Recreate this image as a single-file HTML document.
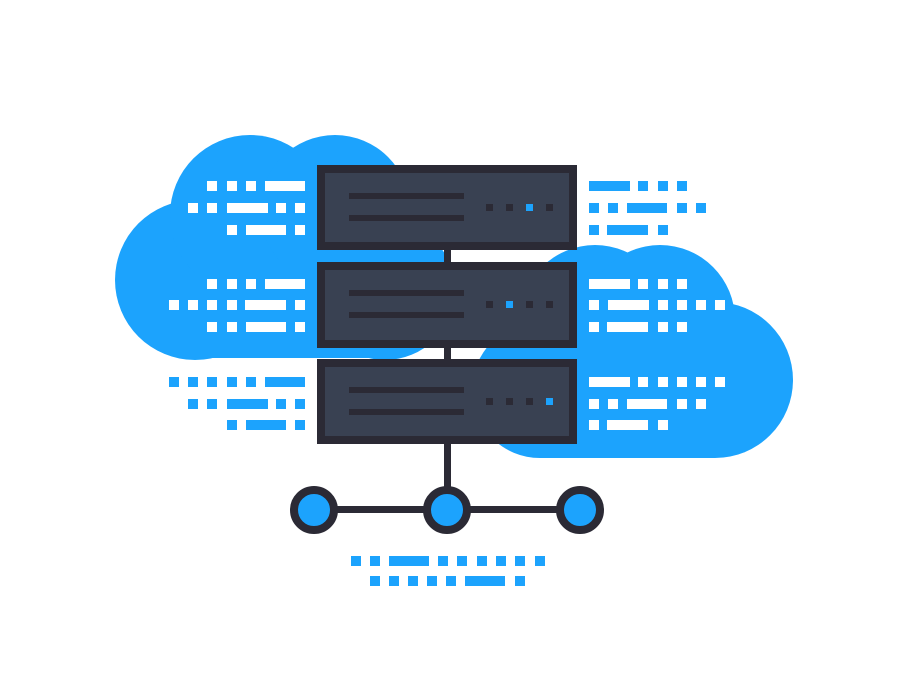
<!DOCTYPE html>
<html><head><style>html,body{margin:0;padding:0;background:#fff;}svg{display:block}</style></head>
<body>
<svg width="900" height="700" viewBox="0 0 900 700" xmlns="http://www.w3.org/2000/svg">
<g fill="#1ca3fd">
<circle cx="195" cy="280" r="80"/><circle cx="250" cy="215" r="80"/><circle cx="335" cy="210" r="75"/><circle cx="385" cy="290" r="70"/>
<rect x="195" y="260" width="195" height="98"/>
<circle cx="595" cy="320" r="75"/><circle cx="660" cy="320" r="75"/><circle cx="715" cy="380" r="78"/><circle cx="540" cy="390" r="68"/>
<rect x="540" y="360" width="175" height="98"/><rect x="560" y="320" width="120" height="80"/>
</g>
<g fill="#fff">
<rect x="207" y="181" width="10" height="10"/><rect x="227" y="181" width="10" height="10"/><rect x="246" y="181" width="10" height="10"/><rect x="265" y="181" width="40" height="10"/>
<rect x="188" y="203" width="10" height="10"/><rect x="207" y="203" width="10" height="10"/><rect x="227" y="203" width="41" height="10"/><rect x="276" y="203" width="10" height="10"/><rect x="295" y="203" width="10" height="10"/>
<rect x="227" y="225" width="10" height="10"/><rect x="246" y="225" width="40" height="10"/><rect x="295" y="225" width="10" height="10"/>
<rect x="207" y="279" width="10" height="10"/><rect x="227" y="279" width="10" height="10"/><rect x="246" y="279" width="10" height="10"/><rect x="265" y="279" width="40" height="10"/>
<rect x="169" y="300" width="10" height="10"/><rect x="188" y="300" width="10" height="10"/><rect x="207" y="300" width="10" height="10"/><rect x="227" y="300" width="10" height="10"/><rect x="245" y="300" width="41" height="10"/><rect x="295" y="300" width="10" height="10"/>
<rect x="207" y="322" width="10" height="10"/><rect x="227" y="322" width="10" height="10"/><rect x="246" y="322" width="40" height="10"/><rect x="295" y="322" width="10" height="10"/>
<rect x="589" y="279" width="41" height="10"/><rect x="638" y="279" width="10" height="10"/><rect x="658" y="279" width="10" height="10"/><rect x="677" y="279" width="10" height="10"/>
<rect x="589" y="300" width="10" height="10"/><rect x="608" y="300" width="41" height="10"/><rect x="658" y="300" width="10" height="10"/><rect x="677" y="300" width="10" height="10"/><rect x="696" y="300" width="10" height="10"/><rect x="715" y="300" width="10" height="10"/>
<rect x="589" y="322" width="10" height="10"/><rect x="607" y="322" width="41" height="10"/><rect x="658" y="322" width="10" height="10"/><rect x="677" y="322" width="10" height="10"/>
<rect x="589" y="377" width="41" height="10"/><rect x="638" y="377" width="10" height="10"/><rect x="658" y="377" width="10" height="10"/><rect x="677" y="377" width="10" height="10"/><rect x="696" y="377" width="10" height="10"/><rect x="715" y="377" width="10" height="10"/>
<rect x="589" y="399" width="10" height="10"/><rect x="608" y="399" width="10" height="10"/><rect x="627" y="399" width="40" height="10"/><rect x="677" y="399" width="10" height="10"/><rect x="696" y="399" width="10" height="10"/>
<rect x="589" y="420" width="10" height="10"/><rect x="607" y="420" width="41" height="10"/><rect x="658" y="420" width="10" height="10"/>
</g>
<g fill="#1ca3fd">
<rect x="169" y="377" width="10" height="10"/><rect x="188" y="377" width="10" height="10"/><rect x="207" y="377" width="10" height="10"/><rect x="227" y="377" width="10" height="10"/><rect x="246" y="377" width="10" height="10"/><rect x="265" y="377" width="40" height="10"/>
<rect x="188" y="399" width="10" height="10"/><rect x="207" y="399" width="10" height="10"/><rect x="227" y="399" width="41" height="10"/><rect x="276" y="399" width="10" height="10"/><rect x="295" y="399" width="10" height="10"/>
<rect x="227" y="420" width="10" height="10"/><rect x="246" y="420" width="40" height="10"/><rect x="295" y="420" width="10" height="10"/>
<rect x="589" y="181" width="41" height="10"/><rect x="638" y="181" width="10" height="10"/><rect x="658" y="181" width="10" height="10"/><rect x="677" y="181" width="10" height="10"/>
<rect x="589" y="203" width="10" height="10"/><rect x="608" y="203" width="10" height="10"/><rect x="627" y="203" width="40" height="10"/><rect x="677" y="203" width="10" height="10"/><rect x="696" y="203" width="10" height="10"/>
<rect x="589" y="225" width="10" height="10"/><rect x="607" y="225" width="41" height="10"/><rect x="658" y="225" width="10" height="10"/>
<rect x="351" y="556" width="10" height="10"/><rect x="370" y="556" width="10" height="10"/><rect x="389" y="556" width="40" height="10"/><rect x="438" y="556" width="10" height="10"/><rect x="457" y="556" width="10" height="10"/><rect x="477" y="556" width="10" height="10"/><rect x="496" y="556" width="10" height="10"/><rect x="515" y="556" width="10" height="10"/><rect x="535" y="556" width="10" height="10"/>
<rect x="370" y="576" width="10" height="10"/><rect x="389" y="576" width="10" height="10"/><rect x="408" y="576" width="10" height="10"/><rect x="427" y="576" width="10" height="10"/><rect x="446" y="576" width="10" height="10"/><rect x="465" y="576" width="40" height="10"/><rect x="515" y="576" width="10" height="10"/>
</g>
<rect x="444" y="245" width="7" height="250" fill="#2b2a35"/>
<rect x="314" y="506" width="266" height="7" fill="#2b2a35"/>
<g fill="#1ca3fd" stroke="#2b2a35" stroke-width="8">
<circle cx="314" cy="510" r="20"/><circle cx="447" cy="510" r="20"/><circle cx="580" cy="510" r="20"/>
</g>
<g stroke="#2b2a35" stroke-width="8" fill="#394152">
<rect x="321" y="169" width="252" height="77"/>
<rect x="321" y="266" width="252" height="78"/>
<rect x="321" y="363" width="252" height="77"/>
</g>
<g fill="#2b2a35">
<rect x="349" y="193" width="115" height="6"/><rect x="349" y="215" width="115" height="6"/>
<rect x="349" y="290" width="115" height="6"/><rect x="349" y="312" width="115" height="6"/>
<rect x="349" y="387" width="115" height="6"/><rect x="349" y="409" width="115" height="6"/>
<rect x="486" y="204" width="7" height="7"/><rect x="506" y="204" width="7" height="7"/><rect x="546" y="204" width="7" height="7"/>
<rect x="486" y="301" width="7" height="7"/><rect x="526" y="301" width="7" height="7"/><rect x="546" y="301" width="7" height="7"/>
<rect x="486" y="398" width="7" height="7"/><rect x="506" y="398" width="7" height="7"/><rect x="526" y="398" width="7" height="7"/>
</g>
<g fill="#1ca3fd">
<rect x="526" y="204" width="7" height="7"/><rect x="506" y="301" width="7" height="7"/><rect x="546" y="398" width="7" height="7"/>
</g>
</svg>
</body></html>
